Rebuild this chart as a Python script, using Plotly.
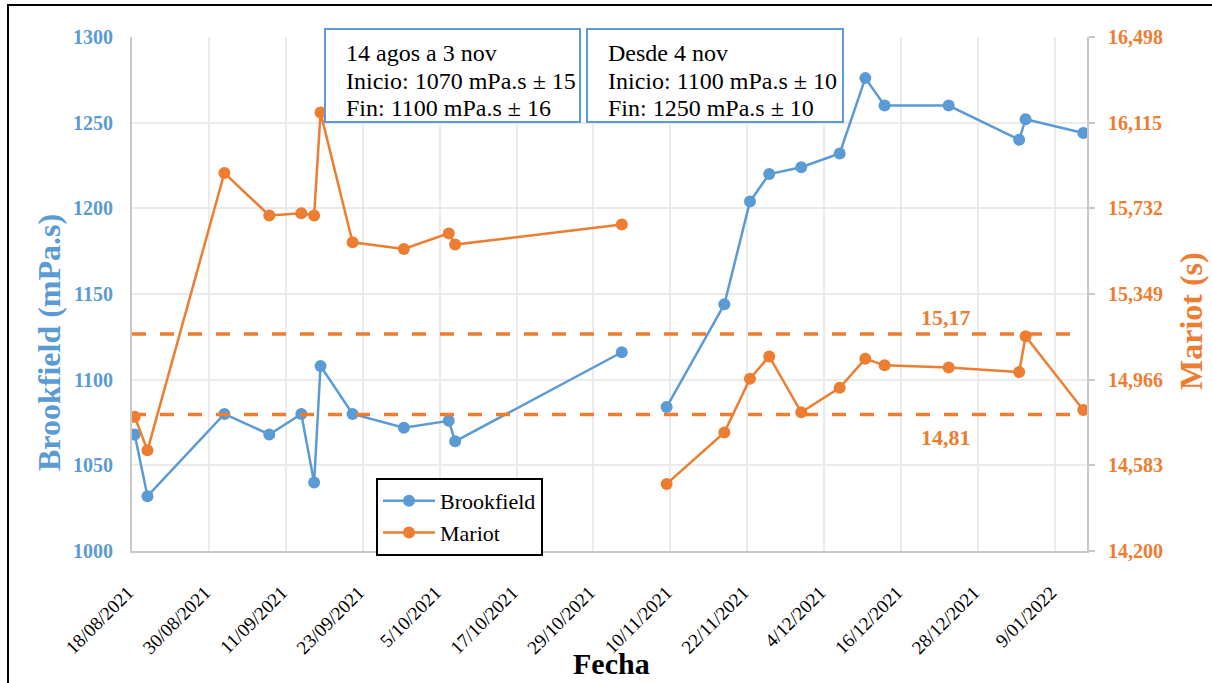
import plotly.graph_objects as go

# ---- data -------------------------------------------------------------
# Period 1: 14 agos a 3 nov
dates_p1 = [
    "2021-08-18 10:00", "2021-08-20 10:00", "2021-09-01 10:00", "2021-09-08 10:00",
    "2021-09-13 10:00", "2021-09-15 10:00", "2021-09-16 10:00", "2021-09-21 10:00",
    "2021-09-29 10:00", "2021-10-06 10:00", "2021-10-07 10:00", "2021-11-02 10:00",
]
brookfield_p1 = [1068, 1032, 1080, 1068, 1080, 1040, 1108, 1080, 1072, 1076, 1064, 1116]
mariot_p1 = [14.80, 14.65, 15.89, 15.70, 15.71, 15.70, 16.16, 15.58, 15.55, 15.62, 15.57, 15.66]

# Period 2: desde 4 nov
dates_p2 = [
    "2021-11-09 10:00", "2021-11-18 10:00", "2021-11-22 10:00", "2021-11-25 10:00",
    "2021-11-30 10:00", "2021-12-06 10:00", "2021-12-10 10:00", "2021-12-13 10:00",
    "2021-12-23 10:00", "2022-01-03 10:00", "2022-01-04 10:00", "2022-01-13 10:00",
]
brookfield_p2 = [1084, 1144, 1204, 1220, 1224, 1232, 1276, 1260, 1260, 1240, 1252, 1244]
mariot_p2 = [14.50, 14.73, 14.97, 15.07, 14.82, 14.93, 15.06, 15.03, 15.02, 15.00, 15.16, 14.83]

# Mariot control limits (s)
mariot_upper = 15.17
mariot_lower = 14.81
limit_span = ["2021-08-18", "2022-01-11 12:00"]

# axis ticks
x_tickvals = [
    "2021-08-18", "2021-08-30", "2021-09-11", "2021-09-23", "2021-10-05", "2021-10-17",
    "2021-10-29", "2021-11-10", "2021-11-22", "2021-12-04", "2021-12-16", "2021-12-28",
    "2022-01-09",
]
x_ticktext = [
    "18/08/2021", "30/08/2021", "11/09/2021", "23/09/2021", "5/10/2021", "17/10/2021",
    "29/10/2021", "10/11/2021", "22/11/2021", "4/12/2021", "16/12/2021", "28/12/2021",
    "9/01/2022",
]
y_left_ticks = [1000, 1050, 1100, 1150, 1200, 1250, 1300]
y_right_ticks = [14.200, 14.583, 14.966, 15.349, 15.732, 16.115, 16.498]

# ---- styling ----------------------------------------------------------
BLUE = "#5B9BD5"
ORANGE = "#ED7D31"
SERIF = "Liberation Serif, Times New Roman, serif"
GRID = "#EBEBEB"
AXIS = "#C8C8C8"

W, H = 1212, 683
L, R, T, B = 132, 125, 37, 132
PW, PH = W - L - R, H - T - B


def px(xp):
    return (xp - L) / PW


def py(yp):
    return (H - B - yp) / PH


fig = go.Figure()

for i, (d, b) in enumerate([(dates_p1, brookfield_p1), (dates_p2, brookfield_p2)]):
    fig.add_trace(go.Scatter(
        x=d, y=b, name="Brookfield", legendgroup="brook", showlegend=(i == 0),
        mode="lines+markers", line=dict(color=BLUE, width=2.5),
        marker=dict(color=BLUE, size=12), yaxis="y",
    ))

for i, (d, m) in enumerate([(dates_p1, mariot_p1), (dates_p2, mariot_p2)]):
    fig.add_trace(go.Scatter(
        x=d, y=m, name="Mariot", legendgroup="mariot", showlegend=(i == 0),
        mode="lines+markers", line=dict(color=ORANGE, width=2.5),
        marker=dict(color=ORANGE, size=12), yaxis="y2",
    ))

for lim in (mariot_upper, mariot_lower):
    fig.add_trace(go.Scatter(
        x=limit_span, y=[lim, lim], mode="lines", showlegend=False, hoverinfo="skip",
        line=dict(color=ORANGE, width=3.5, dash="14px,14px"), yaxis="y2",
    ))


# limit labels (Spanish decimal comma)
def fmt_es(v):
    return f"{v:.2f}".replace(".", ",")


fig.add_annotation(x="2021-12-23", y=mariot_upper, xref="x", yref="y2", text=fmt_es(mariot_upper),
                   showarrow=False, yanchor="bottom", yshift=2,
                   font=dict(family=SERIF, size=22, color=ORANGE, weight="bold"))
fig.add_annotation(x="2021-12-23", y=mariot_lower, xref="x", yref="y2", text=fmt_es(mariot_lower),
                   showarrow=False, yanchor="top", yshift=-8,
                   font=dict(family=SERIF, size=22, color=ORANGE, weight="bold"))

# period info boxes
boxes = [
    ((325, 580), ["14 agos a 3 nov", "Inicio: 1070 mPa.s ± 15", "Fin: 1100 mPa.s ± 16"]),
    ((587, 843), ["Desde 4 nov", "Inicio: 1100 mPa.s ± 10", "Fin: 1250 mPa.s ± 10"]),
]
for (x0, x1), lines in boxes:
    fig.add_shape(type="rect", xref="paper", yref="paper",
                  x0=px(x0), x1=px(x1), y0=py(122), y1=py(29),
                  line=dict(color=BLUE, width=2), fillcolor="white", layer="above")
    for k, txt in enumerate(lines):
        fig.add_annotation(xref="paper", yref="paper", x=px(x0 + 19), y=py(53 + 27.5 * k),
                           text=txt, showarrow=False, xanchor="left", yanchor="middle",
                           font=dict(family=SERIF, size=24, color="black"))

# axis titles
fig.add_annotation(xref="paper", yref="paper", x=px(49), y=py(343), text="Brookfield (mPa.s)",
                   textangle=-90, showarrow=False, xanchor="center", yanchor="middle",
                   font=dict(family=SERIF, size=32, color=BLUE, weight="bold"))
fig.add_annotation(xref="paper", yref="paper", x=px(1191), y=py(321), text="Mariot (s)",
                   textangle=-90, showarrow=False, xanchor="center", yanchor="middle",
                   font=dict(family=SERIF, size=32, color=ORANGE, weight="bold"))
fig.add_annotation(xref="paper", yref="paper", x=px(611), y=py(682), text="Fecha",
                   showarrow=False, xanchor="center", yanchor="bottom",
                   font=dict(family=SERIF, size=30, color="black", weight="bold"))

# outer frame
fig.add_shape(type="rect", xref="paper", yref="paper",
              x0=px(8), y0=py(H + 40), x1=px(W + 40), y1=py(5),
              line=dict(color="black", width=2), fillcolor="rgba(0,0,0,0)", layer="above")

fig.update_layout(
    width=W, height=H,
    margin=dict(l=L, r=R, t=T, b=B),
    paper_bgcolor="white", plot_bgcolor="white",
    separators=",.",
    font=dict(family=SERIF, color="black"),
    showlegend=True,
    legend=dict(
        x=px(376), y=py(478), xanchor="left", yanchor="top",
        bordercolor="black", borderwidth=2, bgcolor="white",
        font=dict(family=SERIF, size=22, color="black"),
        tracegroupgap=0, itemwidth=52,
    ),
    xaxis=dict(
        type="date", range=["2021-08-18", "2022-01-14"],
        tickvals=x_tickvals, ticktext=x_ticktext, tickangle=-45,
        tickfont=dict(family=SERIF, size=19, color="black"),
        showgrid=True, gridcolor=GRID, gridwidth=1.5,
        showline=True, linecolor=AXIS, linewidth=2,
        ticks="", ticklabelstandoff=21, ticklabelshift=-4,
        zeroline=False,
    ),
    yaxis=dict(
        range=[1000, 1300], tickvals=y_left_ticks, tickformat="d",
        tickfont=dict(family=SERIF, size=20, color=BLUE, weight="bold"),
        showgrid=True, gridcolor=GRID, gridwidth=1.5,
        showline=True, linecolor=AXIS, linewidth=2,
        ticks="", ticklabelstandoff=13,
        zeroline=False,
    ),
    yaxis2=dict(
        range=[14.2, 16.498], tickvals=y_right_ticks, tickformat=".3f",
        overlaying="y", side="right",
        tickfont=dict(family=SERIF, size=20, color=ORANGE, weight="bold"),
        showgrid=False, showline=True, linecolor=AXIS, linewidth=2,
        ticks="outside", ticklen=6, tickcolor=AXIS, tickwidth=2, ticklabelstandoff=9,
        zeroline=False,
    ),
)

fig.write_html("out.html")
